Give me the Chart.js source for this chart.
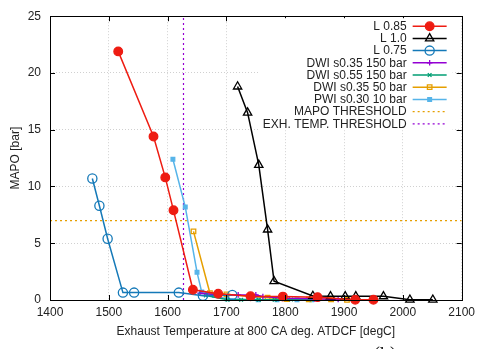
<!DOCTYPE html>
<html><head><meta charset="UTF-8">
<title>MAPO vs Exhaust Temperature</title>
<script src="https://cdn.jsdelivr.net/npm/chart.js"></script>
<style>
  html, body { margin: 0; padding: 0; background: #ffffff; }
  #wrap { width: 480px; height: 349px; }
</style></head><body>
<div id="wrap"><canvas id="c"></canvas></div>
<script>
// values: exhaust temperature [degC] and MAPO [bar]
const l085Temp = [1516, 1576, 1596, 1610, 1643, 1686, 1741, 1796, 1855, 1919, 1950];
const l085Mapo = [21.9, 14.4, 10.8, 7.9, 0.9, 0.55, 0.33, 0.3, 0.25, 0.02, 0.02];
const l10Temp = [1719, 1736, 1755, 1770, 1781, 1847, 1877, 1902, 1920, 1967, 2012, 2051];
const l10Mapo = [18.8, 16.5, 11.9, 6.2, 1.65, 0.35, 0.32, 0.32, 0.32, 0.32, 0.02, 0.02];
const l075Temp = [1472, 1484, 1498, 1524, 1543, 1619, 1660, 1710];
const l075Mapo = [10.7, 8.3, 5.4, 0.65, 0.65, 0.65, 0.38, 0.45];
const dwi35hTemp = [1655, 1690, 1720, 1750, 1762, 1800, 1850, 1890];
const dwi35hMapo = [0.6, 0.45, 0.45, 0.45, 0.3, 0.15, 0.1, 0.05];
const dwi55hTemp = [1665, 1702, 1725, 1755, 1782, 1810, 1845];
const dwi55hMapo = [0.4, 0.02, 0.02, 0.02, 0.02, 0.05, 0.05];
const dwi35lTemp = [1644, 1672, 1700, 1742, 1770, 1803, 1840, 1878, 1905];
const dwi35lMapo = [6.05, 0.6, 0.5, 0.3, 0.2, 0.08, 0.05, 0.05, 0.02];
const pwiTemp = [1609, 1630, 1650, 1658, 1680, 1701, 1754, 1786, 1820, 1845];
const pwiMapo = [12.4, 8.2, 2.45, 0.7, 0.4, 0.1, 0.02, 0.02, 0.02, 0.02];
const mapoThreshold = 7;
const exhTempThreshold = 1627;
const xTicks = [1400, 1500, 1600, 1700, 1800, 1900, 2000, 2100];
const yTicks = [0, 5, 10, 15, 20, 25];

const pts = (xs, ys) => xs.map((x, i) => ({ x: x, y: ys[i] }));

function series(label, xs, ys, color, style, radius, fill) {
  return {
    label: label,
    data: pts(xs, ys),
    borderColor: color,
    borderWidth: 1.5,
    pointStyle: style,
    pointRadius: radius,
    pointBorderColor: color,
    pointBackgroundColor: fill,
    pointBorderWidth: 1.3,
    clip: false
  };
}

const datasets = [
  series('L 0.85', l085Temp, l085Mapo, '#ee1c12', 'circle', 4.3, '#ee1c12'),
  series('L 1.0', l10Temp, l10Mapo, '#000000', 'triangle', 4.8, 'rgba(0,0,0,0)'),
  series('L 0.75', l075Temp, l075Mapo, '#1479b8', 'circle', 4.6, 'rgba(0,0,0,0)'),
  series('DWI s0.35 150 bar', dwi35hTemp, dwi35hMapo, '#9400d3', 'cross', 2.8, '#9400d3'),
  series('DWI s0.55 150 bar', dwi55hTemp, dwi55hMapo, '#009e73', 'crossRot', 2.6, '#009e73'),
  series('DWI s0.35 50 bar', dwi35lTemp, dwi35lMapo, '#e69f00', 'rect', 3.2, 'rgba(0,0,0,0)'),
  series('PWI s0.30 10 bar', pwiTemp, pwiMapo, '#56b4e9', 'rect', 2.6, '#56b4e9'),
  {
    label: 'MAPO THRESHOLD',
    data: [{ x: xTicks[0], y: mapoThreshold }, { x: xTicks[xTicks.length - 1], y: mapoThreshold }],
    borderColor: '#e69f00', borderWidth: 1.2, borderDash: [2, 3], pointRadius: 0
  },
  {
    label: 'EXH. TEMP. THRESHOLD',
    data: [{ x: exhTempThreshold, y: yTicks[0] }, { x: exhTempThreshold, y: yTicks[yTicks.length - 1] }],
    borderColor: '#9400d3', borderWidth: 1.2, borderDash: [2, 3], pointRadius: 0
  }
];

const FONT = 'Liberation Sans, Arial, Helvetica, sans-serif';

// gnuplot style frame with inward ticks on all four sides
const framePlugin = {
  id: 'frame',
  afterDatasetsDraw(chart) {
    const ctx = chart.ctx, a = chart.chartArea;
    const xs = chart.scales.x, ys = chart.scales.y;
    ctx.save();
    ctx.strokeStyle = '#000';
    ctx.lineWidth = 1;
    ctx.beginPath();
    xTicks.forEach(v => {
      const px = Math.round(xs.getPixelForValue(v)) + 0.5;
      ctx.moveTo(px, a.bottom); ctx.lineTo(px, a.bottom - 5);
      ctx.moveTo(px, a.top); ctx.lineTo(px, a.top + 5);
    });
    yTicks.forEach(v => {
      const py = Math.round(ys.getPixelForValue(v)) + 0.5;
      ctx.moveTo(a.left, py); ctx.lineTo(a.left + 5, py);
      ctx.moveTo(a.right, py); ctx.lineTo(a.right - 5, py);
    });
    ctx.stroke();
    ctx.strokeRect(Math.round(a.left) + 0.5, Math.round(a.top) + 0.5,
      Math.round(a.right - a.left), Math.round(a.bottom - a.top));
    ctx.restore();
  }
};

// key box in the top right corner, text right aligned, sample on the right
const keyPlugin = {
  id: 'key',
  afterDraw(chart) {
    const ctx = chart.ctx, a = chart.chartArea;
    const textRight = a.right - 55;
    const lineL = a.right - 49, lineR = a.right - 15;
    const top = a.top + 10, step = 12.2;
    ctx.save();
    ctx.fillStyle = '#ffffff';
    ctx.fillRect(a.left + 208, a.top + 2, a.right - a.left - 217, 112);
    ctx.font = '12px ' + FONT;
    ctx.textAlign = 'right';
    ctx.textBaseline = 'middle';
    chart.data.datasets.forEach((ds, i) => {
      const y = top + i * step;
      ctx.fillStyle = '#222';
      ctx.fillText(ds.label, textRight, y + 0.5);
      ctx.strokeStyle = ds.borderColor;
      ctx.lineWidth = ds.borderWidth;
      ctx.setLineDash(ds.borderDash || []);
      ctx.beginPath();
      ctx.moveTo(lineL, y); ctx.lineTo(lineR, y);
      ctx.stroke();
      ctx.setLineDash([]);
      if (ds.pointRadius > 0 && Chart.helpers && Chart.helpers.drawPoint) {
        ctx.fillStyle = ds.pointBackgroundColor;
        ctx.strokeStyle = ds.pointBorderColor;
        ctx.lineWidth = ds.pointBorderWidth;
        Chart.helpers.drawPoint(ctx, {
          pointStyle: ds.pointStyle, radius: ds.pointRadius,
          borderWidth: ds.pointBorderWidth, rotation: 0
        }, (lineL + lineR) / 2, y);
      }
    });
    // caption below the frame, cut by the bottom edge
    ctx.fillStyle = '#111';
    ctx.font = '20px Liberation Serif, DejaVu Serif, serif';
    ctx.textAlign = 'center';
    ctx.textBaseline = 'top';
    ctx.fillText('(b)', 385, 346);
    ctx.restore();
  }
};

new Chart(document.getElementById('c').getContext('2d'), {
  type: 'line',
  data: { datasets: datasets },
  options: {
    responsive: true,
    maintainAspectRatio: false,
    animation: false,
    layout: { padding: { top: 11, right: 16, left: 0, bottom: 0 } },
    plugins: { legend: { display: false }, tooltip: { enabled: false } },
    elements: { line: { tension: 0 } },
    scales: {
      x: {
        type: 'linear', min: 1400, max: 2100,
        afterBuildTicks: s => { s.ticks = xTicks.map(v => ({ value: v })); },
        afterFit: s => { s.height = 49; },
        ticks: { color: '#222', font: { family: FONT, size: 12 }, padding: 5, maxRotation: 0,
                 callback: v => String(v) },
        grid: { color: '#d0d0d0', lineWidth: 1, drawTicks: false },
        border: { display: false, dash: [1, 2] },
        title: { display: true, text: 'Exhaust Temperature at 800 CA deg. ATDCF [degC]',
                 color: '#222', font: { family: FONT, size: 12 }, padding: { top: 0, bottom: 10 } }
      },
      y: {
        type: 'linear', min: 0, max: 25,
        afterBuildTicks: s => { s.ticks = yTicks.map(v => ({ value: v })); },
        afterFit: s => { s.width = 50; },
        ticks: { color: '#222', font: { family: FONT, size: 12 }, padding: 9,
                 callback: v => String(v) },
        grid: { color: '#d0d0d0', lineWidth: 1, drawTicks: false },
        border: { display: false, dash: [1, 2] },
        title: { display: true, text: 'MAPO [bar]',
                 color: '#222', font: { family: FONT, size: 12 }, padding: { top: 8, bottom: 0 } }
      }
    }
  },
  plugins: [framePlugin, keyPlugin]
});
</script>
</body></html>
